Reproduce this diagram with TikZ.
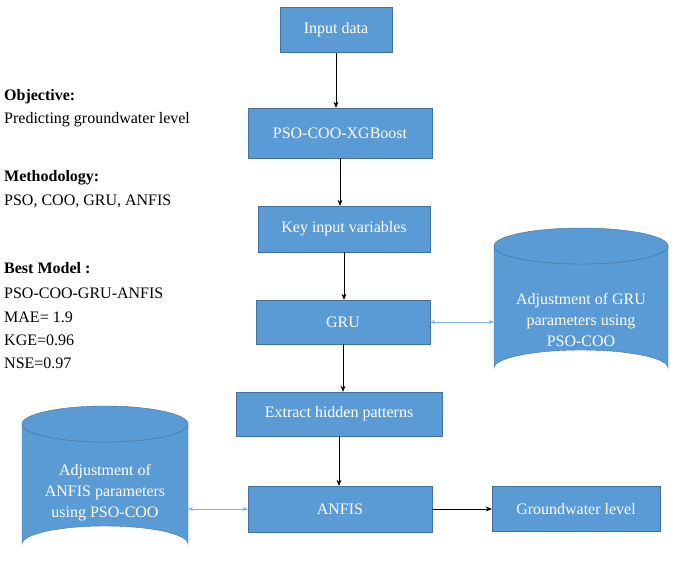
\documentclass[tikz,border=0pt]{standalone}
\usepackage{fontspec}
\setmainfont{Liberation Serif}
\usetikzlibrary{arrows.meta}
\definecolor{bfill}{HTML}{5B9BD5}
\definecolor{bdraw}{HTML}{41719C}
\definecolor{larrow}{HTML}{7FB2E0}
\begin{document}
\begin{tikzpicture}[x=1pt,y=-1pt,
 box/.style={draw=bdraw,fill=bfill,text=white,font=\fontsize{16}{18}\selectfont,minimum width=#1,minimum height=45,inner sep=2},
 arr/.style={-{Stealth[length=6,width=5]},black,line width=0.6},
 larr/.style={{Stealth[length=5,width=4]}-{Stealth[length=5,width=4]},larrow,line width=0.6},
 lt/.style={anchor=west,font=\fontsize{16}{18}\selectfont,inner sep=0}]
\useasboundingbox (0,0) rectangle (685,575);
\node[box=112] (in) at (336,30) {Input data};
\node[box=184,minimum height=50] (xg) at (340,133) {PSO-COO-XGBoost};
\node[box=172,minimum height=46] (key) at (344,229) {Key input variables};
\node[box=174,minimum height=44] (gru) at (343,322) {GRU};
\node[box=206,minimum height=44] (ext) at (339,414) {Extract hidden patterns};
\node[box=184,minimum height=46] (anf) at (340,509) {ANFIS};
\node[box=168,minimum height=45] (gw) at (576,509) {Groundwater level};
% right cylinder
\path[draw=bdraw,fill=bfill] (494,246) -- (494,368) arc[start angle=180,end angle=360,x radius=87,y radius=18] -- (668,246) arc[start angle=0,end angle=180,x radius=87,y radius=18];
\draw[bdraw,fill=bfill] (581,246) ellipse[x radius=87,y radius=18];
\node[text=white,align=center,font=\fontsize{16}{21}\selectfont] (cr) at (581,320) {Adjustment of GRU\\parameters using\\PSO-COO};
\coordinate (crl) at (494,322);
% left cylinder
\path[draw=bdraw,fill=bfill] (22,424) -- (22,544) arc[start angle=180,end angle=360,x radius=83,y radius=18] -- (188,424) arc[start angle=0,end angle=180,x radius=83,y radius=18];
\draw[bdraw,fill=bfill] (105,424) ellipse[x radius=83,y radius=18];
\node[text=white,align=center,font=\fontsize{16}{21}\selectfont] (cl) at (105,493) {Adjustment of\\ANFIS parameters\\using PSO-COO};
\coordinate (clr) at (188,509);
\draw[arr] (in) -- (in|-xg.north);
\draw[arr] (xg) -- (xg|-key.north);
\draw[arr] (key) -- (key|-gru.north);
\draw[arr] (gru) -- (gru|-ext.north);
\draw[arr] (ext) -- (ext|-anf.north);
\draw[arr] (anf) -- (gw);
\draw[larr] (gru.east) -- (crl);
\draw[larr] (clr) -- (anf.west);
\node[lt,font=\bfseries\fontsize{16}{18}\selectfont] (o1) at (4,97) {Objective:};
\node[lt] (o2) at (4,120) {Predicting groundwater level};
\node[lt,font=\bfseries\fontsize{16}{18}\selectfont] (m1) at (4,178) {Methodology:};
\node[lt] (m2) at (4,201) {PSO, COO, GRU, ANFIS};
\node[lt,font=\bfseries\fontsize{16}{18}\selectfont] (b1) at (4,268) {Best Model :};
\node[lt] (b2) at (4,293) {PSO-COO-GRU-ANFIS};
\node[lt] (b3) at (4,317) {MAE= 1.9};
\node[lt] (b4) at (4,340) {KGE=0.96};
\node[lt] (b5) at (4,363) {NSE=0.97};
\end{tikzpicture}
\end{document}
